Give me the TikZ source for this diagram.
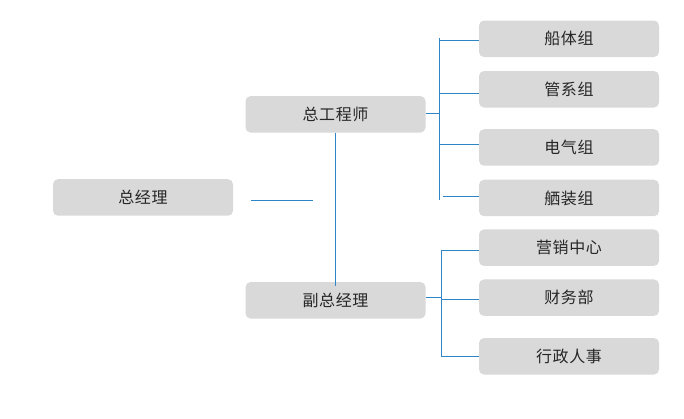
\documentclass[tikz,border=0pt]{standalone}
\usepackage{fontspec}
\setmainfont{Noto Sans CJK SC}[LetterSpace=4]
\usepackage{tikz}
\usetikzlibrary{positioning, calc}
\usepackage{xcolor}
\definecolor{orgbox}{HTML}{D9D9D9}
\definecolor{orgtext}{HTML}{262626}
\definecolor{orgline}{HTML}{2F86C6}

\begin{document}
\begin{tikzpicture}[
      x=1pt, y=-1pt,
      every node/.style={font=\fontsize{16}{19}\selectfont, text=orgtext},
      unit/.style={fill=orgbox, rounded corners=5pt, minimum width=180pt,
                   minimum height=36.5pt, inner sep=0pt},
      link/.style={draw=orgline, line width=1pt},
    ]
    \useasboundingbox (0,0) rectangle (684,419);

    \node[unit] (gm) at (143,197.5) {总经理};
    \node[unit] (chief) at (335.5,114.3) {总工程师};
    \node[unit] (deputy) at (335.5,300.3) {副总经理};

    \node[unit] (hull) at (569,38.8) {船体组};
    \node[unit] (pipe) at (569,89.3) {管系组};
    \node[unit] (elec) at (569,147.5) {电气组};
    \node[unit] (outfit) at (569,198) {舾装组};
    \node[unit] (sales) at (569,247.7) {营销中心};
    \node[unit] (finance) at (569,297.7) {财务部};
    \node[unit] (admin) at (569,356.3) {行政人事};

    \coordinate (gmA) at (250.7,200.5);
    \coordinate (gmB) at (313.3,200.5);
    \draw[link] (gmA) -- (gmB);
    \draw[link] (chief.south) -- ($(deputy.north)+(0,4)$);

    % engineering branch
    \coordinate (busA) at (439.5,113.5);
    \coordinate (busAtop) at (439.5,38.3);
    \coordinate (busAbot) at (439.5,200);
    \draw[link] (chief.east |- busA) -- (busA);
    \draw[link] (busAtop) -- (busAbot);
    \draw[link] (busA |- 0,40.5) -- (hull.west |- 0,40.5);
    \draw[link] (busA |- 0,93.5) -- (pipe.west |- 0,93.5);
    \draw[link] (busA |- 0,144.5) -- (elec.west |- 0,144.5);
    \draw[link] ($(busA |- 0,196.5)+(3,0)$) -- (outfit.west |- 0,196.5);

    % management branch
    \coordinate (busB) at (441.5,297.5);
    \coordinate (busBtop) at (441.5,250.5);
    \coordinate (busBbot) at (441.5,356.5);
    \draw[link] (deputy.east |- busB) -- (busB);
    \draw[link] (busBtop) -- (busBbot);
    \draw[link] (busBtop) -- (sales.west |- busBtop);
    \draw[link] (busB |- 0,299.5) -- (finance.west |- 0,299.5);
    \draw[link] (busBbot) -- (admin.west |- busBbot);
  \end{tikzpicture}
\end{document}
